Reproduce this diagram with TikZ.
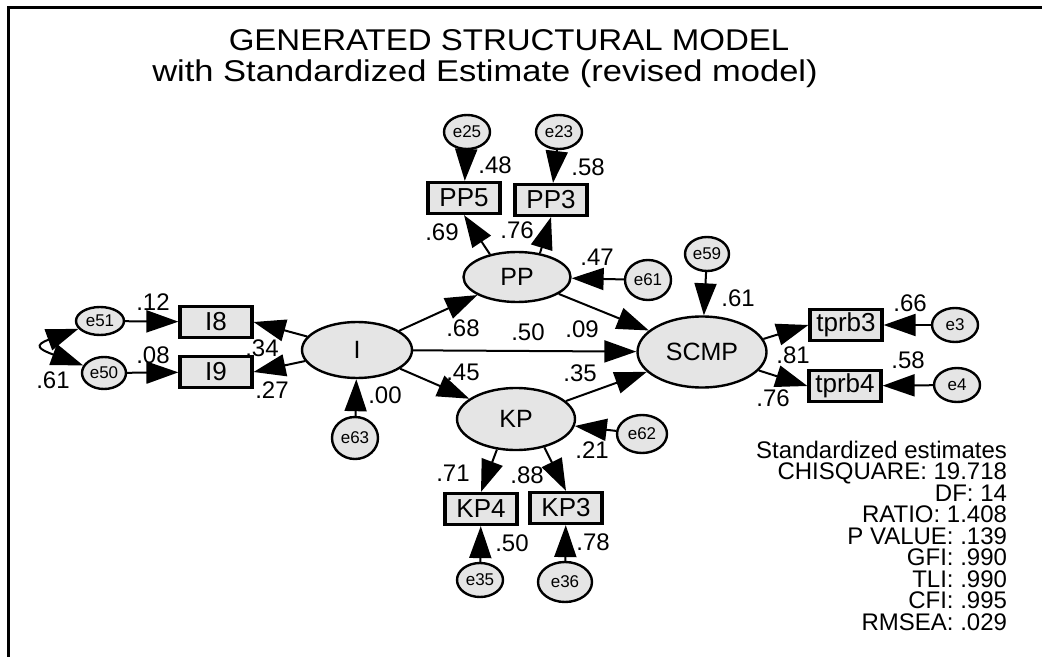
\documentclass[tikz,border=0pt]{standalone}
\usepackage{fontspec}
\setmainfont{Liberation Sans}
\usetikzlibrary{shapes.geometric}
\usetikzlibrary{arrows.meta}

\begin{document}
\begin{tikzpicture}
[x=0.5pt,y=-0.5pt,line width=1pt,>={Triangle[length=16pt,width=11pt]},%
  lat/.style={ellipse,draw,line width=1.2pt,fill=black!10,inner sep=0pt,font=\fontsize{12.5}{14}\selectfont},
  obs/.style={rectangle,draw,line width=1.6pt,fill=black!10,minimum width=36pt,minimum height=15.5pt,inner sep=0pt,font=\fontsize{13}{15}\selectfont},
  err/.style={ellipse,draw,line width=1.2pt,fill=black!10,minimum width=23pt,minimum height=17pt,inner sep=0pt,font=\fontsize{8.5}{9}\selectfont},
  est/.style={inner sep=0pt,font=\fontsize{12}{14}\selectfont},
  ttl/.style={anchor=base,inner sep=0pt,transform shape,font=\fontsize{15}{18}\selectfont}]
\useasboundingbox (0,0) rectangle (1042,657);
\draw[line width=1.5pt] (8,657) -- (8,8) -- (1042,8);
%% title
\node[ttl,xscale=1.1] (title1) at (509,51) {GENERATED STRUCTURAL MODEL};
\node[ttl,xscale=1.15] (title2) at (485,82) {with Standardized Estimate (revised model)};
%% latent variables
\node[lat,minimum width=55pt,minimum height=28pt] (I) at (357,350) {I};
\node[lat,minimum width=53.5pt,minimum height=25pt] (PP) at (517,277) {PP};
\node[lat,minimum width=59pt,minimum height=31pt] (KP) at (516,419) {KP};
\node[lat,minimum width=64.5pt,minimum height=35.5pt] (SCMP) at (702,352) {SCMP};
%% observed variables
\node[obs] (I8) at (216,322) {I8};
\node[obs] (I9) at (216,372) {I9};
\node[obs] (PP5) at (464,198) {PP5};
\node[obs] (PP3) at (551,200) {PP3};
\node[obs] (KP4) at (481,509) {KP4};
\node[obs] (KP3) at (566,508) {KP3};
\node[obs] (tprb3) at (846,325) {tprb3};
\node[obs] (tprb4) at (845,386) {tprb4};
%% error terms
\node[err,minimum width=24pt,minimum height=14pt] (e51) at (100,321) {e51};
\node[err,minimum width=22pt,minimum height=16pt] (e50) at (104,373) {e50};
\node[err,minimum height=21pt] (e63) at (355,438) {e63};
\node[err] (e25) at (467,132) {e25};
\node[err] (e23) at (559,132) {e23};
\node[err,minimum height=20pt] (e61) at (648,280) {e61};
\node[err,minimum width=22pt] (e59) at (707,254) {e59};
\node[err] (e3) at (955,325) {e3};
\node[err] (e4) at (957,385) {e4};
\node[err,minimum width=25pt,minimum height=19pt] (e62) at (642,434) {e62};
\node[err] (e35) at (480,580) {e35};
\node[err,minimum width=27pt,minimum height=20pt] (e36) at (565,582) {e36};
%% paths
\path[->]
(I) edge (PP)
(I) edge (SCMP)
(I) edge (KP)
(PP) edge (SCMP)
(KP) edge (SCMP)
(I) edge (I8.east)
(I) edge (I9.east)
(PP.140) edge (PP5.south)
(PP.46) edge (PP3.south)
(KP.238) edge (KP4.north)
(KP.315) edge (KP3.north)
(SCMP.12) edge (tprb3.west)
(SCMP.-18) edge (tprb4.west)
(e51) edge (I8)
(e50) edge (I9)
(e63) edge (I)
(e25) edge (PP5)
(e23) edge (PP3)
(e61) edge (PP)
(e59) edge (SCMP)
(e3) edge (tprb3)
(e4) edge (tprb4)
(e62) edge (KP)
(e35) edge (KP4)
(e36) edge (KP3)
(e51) edge[<->,out=200,in=160,looseness=3.3] (e50);
%% estimates
\node[est] (l1) at (153,302) {.12};
\node[est] (l2) at (153,355) {.08};
\node[est] (l3) at (262,348) {.34};
\node[est] (l4) at (272,390) {.27};
\node[est] (l5) at (385,395) {.00};
\node[est] (l6) at (53,380) {.61};
\node[est] (l7) at (495,165) {.48};
\node[est] (l8) at (588,167) {.58};
\node[est] (l9) at (442,232) {.69};
\node[est] (l10) at (517,230) {.76};
\node[est] (l11) at (597,257) {.47};
\node[est] (l12) at (463,328) {.68};
\node[est] (l13) at (528,332) {.50};
\node[est] (l14) at (582,329) {.09};
\node[est] (l15) at (738,298) {.61};
\node[est] (l16) at (910,303) {.66};
\node[est] (l17) at (793,355) {.81};
\node[est] (l18) at (908,360) {.58};
\node[est] (l19) at (773,398) {.76};
\node[est] (l20) at (463,372) {.45};
\node[est] (l21) at (580,373) {.35};
\node[est] (l22) at (592,450) {.21};
\node[est] (l23) at (453,473) {.71};
\node[est] (l24) at (527,475) {.88};
\node[est] (l25) at (512,543) {.50};
\node[est] (l26) at (593,542) {.78};
%% fit indices
\node[anchor=north east,align=right,inner sep=0pt,font=\fontsize{12}{10.75}\selectfont] (fit) at (1008,440)
{Standardized estimates\\CHISQUARE: 19.718\\DF: 14\\RATIO: 1.408\\P VALUE: .139\\GFI: .990\\TLI: .990\\CFI: .995\\RMSEA: .029};
\end{tikzpicture}
\end{document}
